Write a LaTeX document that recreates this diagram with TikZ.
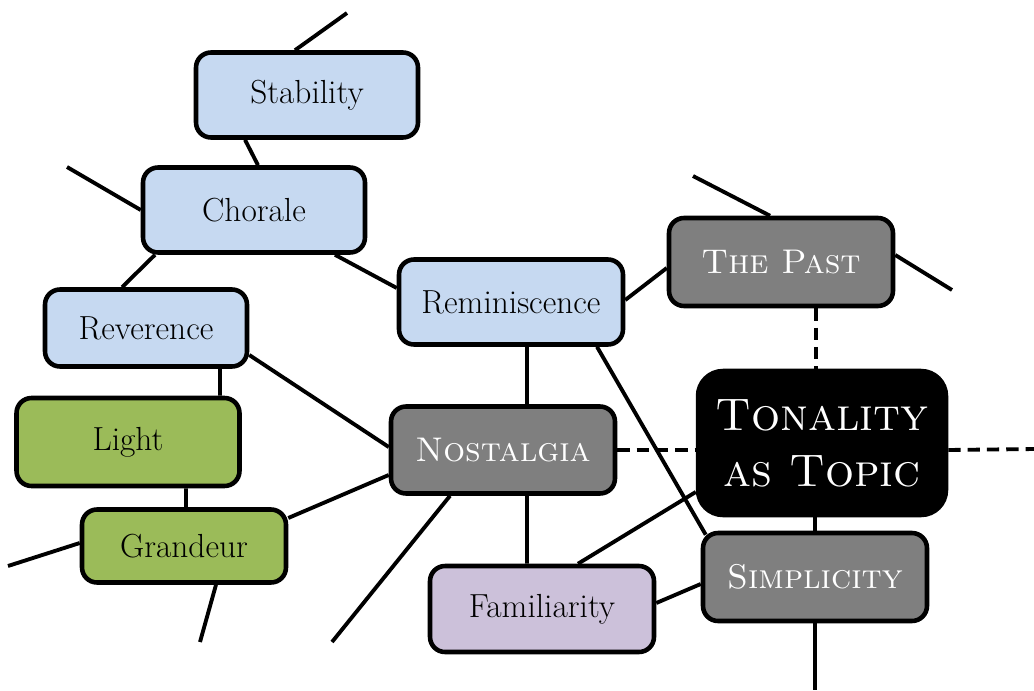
\documentclass[tikz,border=0pt]{standalone}
\usepackage{tikz}
\usetikzlibrary{positioning, calc, backgrounds}

\definecolor{topicblue}{HTML}{C6D9F1}
\definecolor{topicgreen}{HTML}{9BBB59}
\definecolor{topicpurple}{HTML}{CCC1DA}
\definecolor{topicgray}{HTML}{7F7F7F}

\begin{document}
\begin{tikzpicture}[x=0.02cm, y=-0.02cm,
    topic/.style={draw, line width=2.6pt, rounded corners=0.3cm,
        minimum width=4.44cm, minimum height=1.7cm,
        font=\fontsize{19}{22}\selectfont, align=center},
    blue topic/.style={topic, fill=topicblue},
    green topic/.style={topic, fill=topicgreen},
    purple topic/.style={topic, fill=topicpurple},
    gray topic/.style={topic, fill=topicgray, text=white,
        font=\fontsize{19.5}{22}\selectfont\scshape},
    link/.style={line width=2.2pt},
    dashlink/.style={link, dash pattern=on 7pt off 4pt}]

\useasboundingbox (0,0) rectangle (1034,690);

\node[blue topic] (stab) at (307,95) {Stability};
\node[blue topic] (chor) at (254,210) {Chorale};
\node[blue topic,
        minimum width=4.04cm,
        minimum height=1.54cm] (rev) at (146,328) {Reverence};
\node[green topic,
        minimum width=4.46cm,
        minimum height=1.76cm] (light) at (128,442) {Light};
\node[green topic,
        minimum width=4.08cm,
        minimum height=1.46cm] (gran) at (184,546) {Grandeur};
\node[blue topic,
        minimum width=4.48cm] (rem) at (511,302) {Reminiscence};
\node[gray topic,
        minimum width=4.48cm,
        minimum height=1.74cm] (nost) at (503,450) {Nostalgia};
\node[purple topic,
        minimum width=4.48cm,
        minimum height=1.72cm] (fam) at (542,609) {Familiarity};
\node[gray topic,
        minimum width=4.48cm,
        minimum height=1.76cm] (past) at (781,262) {The Past};
\node[topic, fill=black, text=white,
        rounded corners=0.5cm,
        minimum width=4.96cm,
        minimum height=2.88cm,
        font=\fontsize{26}{32}\selectfont\scshape] (tona) at (822,443) {Tonality\\as Topic};
\node[gray topic,
        minimum width=4.48cm,
        minimum height=1.76cm] (simp) at (815,577) {Simplicity};

% loose ends
\coordinate (stabend) at (347,13);
\coordinate (chorend) at (67,167);
\coordinate (granleft) at (8,566);
\coordinate (granbottom) at (200,642);
\coordinate (nostend) at (332,642);
\coordinate (pasttop) at (693,176);
\coordinate (pastright) at (952,290);
\coordinate (tonaend) at (1034,449);
\coordinate (simpend) at (815,690);

\begin{scope}[on background layer]
\draw [link] ([xshift=-0.24cm]stab.north) -- (stabend);
\draw [link] ([xshift=-1.24cm]stab.south) -- ([xshift=0.08cm]chor.north);
\draw [link] (chor.west) -- (chorend);
\draw [link] ([xshift=-1.98cm]chor.south) -- ([xshift=-0.48cm]rev.north);
\draw [link] ([xshift=1.62cm]chor.south) -- ([yshift=0.28cm]rem.west);
\draw [link] ([xshift=1.48cm]rev.south) -- ([xshift=1.84cm]light.north);
\draw [link] ([yshift=-0.54cm]rev.east) -- ([yshift=0.06cm]nost.west);
\draw [link] ([xshift=1.16cm]light.south) -- ([xshift=0.04cm]gran.north);
\draw [link] ([yshift=0.06cm]gran.west) -- (granleft);
\draw [link] ([xshift=0.64cm]gran.south) -- (granbottom);
\draw [link] ([yshift=0.56cm]gran.east) -- ([yshift=-0.5cm]nost.west);
\draw [link] ([xshift=-1.06cm]nost.south) -- (nostend);
\draw [link] ([xshift=0.48cm]nost.south) -- ([xshift=-0.3cm]fam.north);
\draw [link] ([xshift=0.32cm]rem.south) -- ([xshift=0.48cm]nost.north);
\draw [link] ([yshift=0.04cm]rem.east) -- ([yshift=-0.12cm]past.west);
\draw [link] ([xshift=1.72cm]rem.south) -- ([xshift=0.1cm,yshift=-0.08cm]simp.north west);
\draw [link] ([xshift=-0.22cm]past.north) -- (pasttop);
\draw [link] ([yshift=0.14cm]past.east) -- (pastright);
\draw [link] ([xshift=0.72cm]fam.north) -- ([yshift=-0.98cm]tona.west);
\draw [link] ([yshift=0.12cm]fam.east) -- ([yshift=-0.14cm]simp.west);
\draw [link] (simp.north) -- (simp.north |- tona.south);
\draw [link] (simp.south) -- (simpend);
\draw [dashlink] (nost.east) -- (nost.east -| tona.west);
\draw [dashlink] (nost.east -| tona.east) -- (tonaend);
\draw [dashlink] ([xshift=0.7cm]past.south) -- ([xshift=0.7cm]past.south |- tona.north);
\end{scope}

\end{tikzpicture}
\end{document}
